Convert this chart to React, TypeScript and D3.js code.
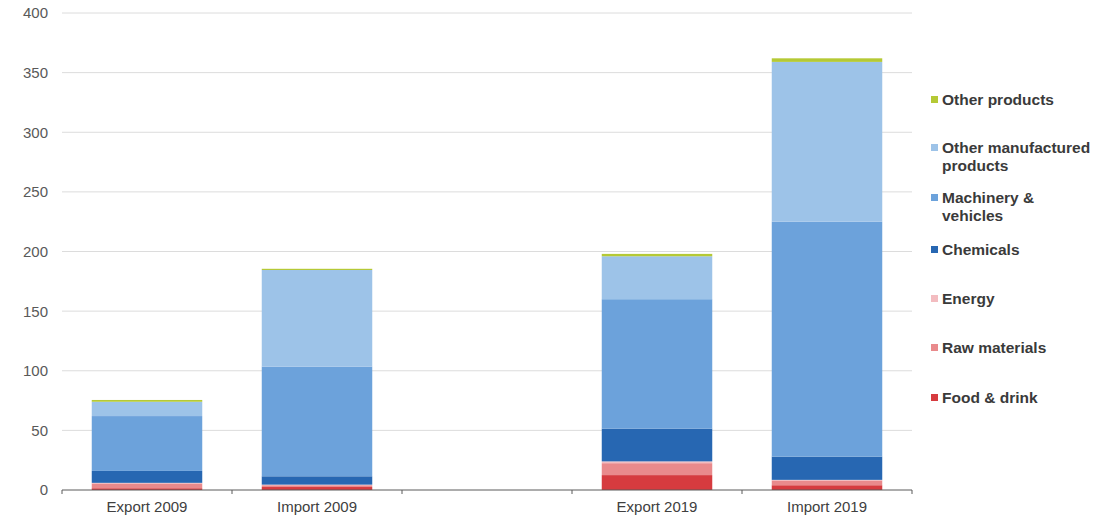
import React from "react";
import * as d3 from "d3";

// Trade flows by product group (EUR billion)
const categories = ["Export 2009", "Import 2009", "", "Export 2019", "Import 2019"];

const foodDrink = [1.5, 2.5, 0, 12.5, 4];
const rawMaterials = [4, 1.5, 0, 10, 4];
const energy = [0.5, 0.5, 0, 1.5, 0.5];
const chemicals = [10, 7, 0, 27.5, 19.5];
const machineryVehicles = [46, 92, 0, 108.5, 197];
const otherManufactured = [12, 81, 0, 36, 134];
const otherProducts = [1.5, 1, 0, 2, 3];

const yTicks = [0, 50, 100, 150, 200, 250, 300, 350, 400];

const seriesDefs = [
  { key: "food", label: ["Food & drink"], values: foodDrink, color: "#d63b3f" },
  { key: "raw", label: ["Raw materials"], values: rawMaterials, color: "#e98a8c" },
  { key: "energy", label: ["Energy"], values: energy, color: "#f3bcc0" },
  { key: "chem", label: ["Chemicals"], values: chemicals, color: "#2767b2" },
  { key: "mach", label: ["Machinery &", "vehicles"], values: machineryVehicles, color: "#6ca2db" },
  { key: "omp", label: ["Other manufactured", "products"], values: otherManufactured, color: "#9dc3e8" },
  { key: "op", label: ["Other products"], values: otherProducts, color: "#b5c935" },
];

const W = 1117;
const H = 523;
const plotLeft = 62;
const plotRight = 912;
const plotTop = 13;
const plotBottom = 490;

export default function App() {
  const x = d3
    .scaleBand<number>()
    .domain(categories.map((_, i) => i))
    .range([plotLeft, plotRight])
    .paddingInner(0.35)
    .paddingOuter(0.175);

  const y = d3.scaleLinear().domain([0, 400]).range([plotBottom, plotTop]);

  const rows = categories.map((c, i) => {
    const r: Record<string, number> = { idx: i };
    seriesDefs.forEach((s) => (r[s.key] = s.values[i]));
    return r;
  });

  const stacked = d3.stack<Record<string, number>>().keys(seriesDefs.map((s) => s.key))(rows);

  const step = x.step();
  const boundaries = d3.range(categories.length + 1).map((i) => plotLeft + i * step);

  // Legend entries listed top-down (reverse stack order)
  const legendItems = [...seriesDefs].reverse();
  const legendBaselines = [105, 153, 203, 255, 304, 353, 403];

  const font = "'Liberation Sans', Arial, sans-serif";

  return (
    <svg
      width={W}
      height={H}
      style={{ position: "absolute", left: 0, top: 0, background: "#fff" }}
      fontFamily={font}
    >
      {/* gridlines */}
      {yTicks.map((t) =>
        t === 0 ? null : (
          <line
            key={"g" + t}
            x1={plotLeft}
            x2={plotRight}
            y1={y(t)}
            y2={y(t)}
            stroke="#dcdcdc"
            strokeWidth={1}
          />
        )
      )}
      {/* y labels */}
      {yTicks.map((t) => (
        <text
          key={"yl" + t}
          x={48}
          y={y(t)}
          dy="0.36em"
          textAnchor="end"
          fontSize={15}
          fill="#595959"
        >
          {t}
        </text>
      ))}
      {/* stacked bars */}
      {stacked.map((layer, li) => (
        <g key={layer.key} fill={seriesDefs[li].color}>
          {layer.map((d, i) =>
            d[1] - d[0] > 0 ? (
              <rect
                key={i}
                x={x(i)}
                width={x.bandwidth()}
                y={y(d[1])}
                height={y(d[0]) - y(d[1])}
              />
            ) : null
          )}
        </g>
      ))}
      {/* x axis */}
      <line x1={plotLeft} x2={plotRight} y1={plotBottom} y2={plotBottom} stroke="#5a5a5a" strokeWidth={1} />
      {boundaries.map((bx, i) => (
        <line key={"t" + i} x1={bx} x2={bx} y1={plotBottom} y2={plotBottom + 4} stroke="#5a5a5a" />
      ))}
      {categories.map((c, i) =>
        c ? (
          <text
            key={"xl" + i}
            x={(x(i) as number) + x.bandwidth() / 2}
            y={512}
            textAnchor="middle"
            fontSize={15}
            fill="#404040"
          >
            {c}
          </text>
        ) : null
      )}
      {/* legend */}
      {legendItems.map((s, i) => {
        const by = legendBaselines[i];
        return (
          <g key={"lg" + s.key}>
            <rect x={931} y={by - 9} width={7} height={7} fill={s.color} />
            {s.label.map((line, j) => (
              <text
                key={j}
                x={942}
                y={by + j * 18}
                fontSize={15.5}
                fontWeight="bold"
                fill="#3a3a3a"
              >
                {line}
              </text>
            ))}
          </g>
        );
      })}
    </svg>
  );
}
